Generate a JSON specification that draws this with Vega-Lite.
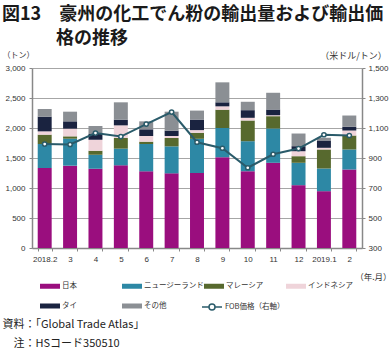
{
  "$schema": "https://vega.github.io/schema/vega-lite/v6.json",
  "width": 330,
  "height": 180,
  "autosize": {"type": "none"},
  "padding": {"left": 32, "top": 68, "right": 30, "bottom": 103},
  "background": "white",
  "config": {"view": {"stroke": null}, "font": "Noto Sans CJK JP"},
  "title": {
    "text": ["図13　豪州の化工でん粉の輸出量および輸出価", "\u200d　　　格の推移"],
    "anchor": "start",
    "frame": "group",
    "dx": -30,
    "offset": 3,
    "fontSize": 18,
    "fontWeight": "bold",
    "font": "Noto Sans CJK JP",
    "color": "#1a1a1a",
    "lineHeight": 24
  },
  "datasets": {
    "bars": [
      {"month": "2018.2", "country": "日本", "ord": 1, "tons": 1333},
      {"month": "2018.2", "country": "ニュージーランド", "ord": 2, "tons": 400},
      {"month": "2018.2", "country": "マレーシア", "ord": 3, "tons": 156},
      {"month": "2018.2", "country": "インドネシア", "ord": 4, "tons": 55},
      {"month": "2018.2", "country": "タイ", "ord": 5, "tons": 245},
      {"month": "2018.2", "country": "その他", "ord": 6, "tons": 128},
      {"month": "3", "country": "日本", "ord": 1, "tons": 1372},
      {"month": "3", "country": "ニュージーランド", "ord": 2, "tons": 450},
      {"month": "3", "country": "マレーシア", "ord": 3, "tons": 39},
      {"month": "3", "country": "インドネシア", "ord": 4, "tons": 128},
      {"month": "3", "country": "タイ", "ord": 5, "tons": 122},
      {"month": "3", "country": "その他", "ord": 6, "tons": 161},
      {"month": "4", "country": "日本", "ord": 1, "tons": 1322},
      {"month": "4", "country": "ニュージーランド", "ord": 2, "tons": 234},
      {"month": "4", "country": "マレーシア", "ord": 3, "tons": 66},
      {"month": "4", "country": "インドネシア", "ord": 4, "tons": 184},
      {"month": "4", "country": "タイ", "ord": 5, "tons": 94},
      {"month": "4", "country": "その他", "ord": 6, "tons": 133},
      {"month": "5", "country": "日本", "ord": 1, "tons": 1378},
      {"month": "5", "country": "ニュージーランド", "ord": 2, "tons": 278},
      {"month": "5", "country": "マレーシア", "ord": 3, "tons": 177},
      {"month": "5", "country": "インドネシア", "ord": 4, "tons": 211},
      {"month": "5", "country": "タイ", "ord": 5, "tons": 95},
      {"month": "5", "country": "その他", "ord": 6, "tons": 289},
      {"month": "6", "country": "日本", "ord": 1, "tons": 1278},
      {"month": "6", "country": "ニュージーランド", "ord": 2, "tons": 455},
      {"month": "6", "country": "マレーシア", "ord": 3, "tons": 39},
      {"month": "6", "country": "インドネシア", "ord": 4, "tons": 95},
      {"month": "6", "country": "タイ", "ord": 5, "tons": 111},
      {"month": "6", "country": "その他", "ord": 6, "tons": 133},
      {"month": "7", "country": "日本", "ord": 1, "tons": 1244},
      {"month": "7", "country": "ニュージーランド", "ord": 2, "tons": 450},
      {"month": "7", "country": "マレーシア", "ord": 3, "tons": 139},
      {"month": "7", "country": "インドネシア", "ord": 4, "tons": 34},
      {"month": "7", "country": "タイ", "ord": 5, "tons": 89},
      {"month": "7", "country": "その他", "ord": 6, "tons": 316},
      {"month": "8", "country": "日本", "ord": 1, "tons": 1250},
      {"month": "8", "country": "ニュージーランド", "ord": 2, "tons": 570},
      {"month": "8", "country": "マレーシア", "ord": 3, "tons": 100},
      {"month": "8", "country": "インドネシア", "ord": 4, "tons": 45},
      {"month": "8", "country": "タイ", "ord": 5, "tons": 175},
      {"month": "8", "country": "その他", "ord": 6, "tons": 150},
      {"month": "9", "country": "日本", "ord": 1, "tons": 1513},
      {"month": "9", "country": "ニュージーランド", "ord": 2, "tons": 487},
      {"month": "9", "country": "マレーシア", "ord": 3, "tons": 305},
      {"month": "9", "country": "インドネシア", "ord": 4, "tons": 56},
      {"month": "9", "country": "タイ", "ord": 5, "tons": 67},
      {"month": "9", "country": "その他", "ord": 6, "tons": 333},
      {"month": "10", "country": "日本", "ord": 1, "tons": 1280},
      {"month": "10", "country": "ニュージーランド", "ord": 2, "tons": 500},
      {"month": "10", "country": "マレーシア", "ord": 3, "tons": 345},
      {"month": "10", "country": "インドネシア", "ord": 4, "tons": 45},
      {"month": "10", "country": "タイ", "ord": 5, "tons": 127},
      {"month": "10", "country": "その他", "ord": 6, "tons": 140},
      {"month": "11", "country": "日本", "ord": 1, "tons": 1420},
      {"month": "11", "country": "ニュージーランド", "ord": 2, "tons": 572},
      {"month": "11", "country": "マレーシア", "ord": 3, "tons": 205},
      {"month": "11", "country": "インドネシア", "ord": 4, "tons": 16},
      {"month": "11", "country": "タイ", "ord": 5, "tons": 95},
      {"month": "11", "country": "その他", "ord": 6, "tons": 279},
      {"month": "12", "country": "日本", "ord": 1, "tons": 1047},
      {"month": "12", "country": "ニュージーランド", "ord": 2, "tons": 373},
      {"month": "12", "country": "マレーシア", "ord": 3, "tons": 110},
      {"month": "12", "country": "インドネシア", "ord": 4, "tons": 83},
      {"month": "12", "country": "タイ", "ord": 5, "tons": 84},
      {"month": "12", "country": "その他", "ord": 6, "tons": 211},
      {"month": "2019.1", "country": "日本", "ord": 1, "tons": 947},
      {"month": "2019.1", "country": "ニュージーランド", "ord": 2, "tons": 378},
      {"month": "2019.1", "country": "マレーシア", "ord": 3, "tons": 317},
      {"month": "2019.1", "country": "インドネシア", "ord": 4, "tons": 28},
      {"month": "2019.1", "country": "タイ", "ord": 5, "tons": 122},
      {"month": "2019.1", "country": "その他", "ord": 6, "tons": 45},
      {"month": "2", "country": "日本", "ord": 1, "tons": 1308},
      {"month": "2", "country": "ニュージーランド", "ord": 2, "tons": 334},
      {"month": "2", "country": "マレーシア", "ord": 3, "tons": 233},
      {"month": "2", "country": "インドネシア", "ord": 4, "tons": 83},
      {"month": "2", "country": "タイ", "ord": 5, "tons": 62},
      {"month": "2", "country": "その他", "ord": 6, "tons": 188}
    ],
    "price": [
      {"month": "2018.2", "price": 993},
      {"month": "3", "price": 990},
      {"month": "4", "price": 1066},
      {"month": "5", "price": 1043},
      {"month": "6", "price": 1126},
      {"month": "7", "price": 1206},
      {"month": "8", "price": 1005},
      {"month": "9", "price": 965},
      {"month": "10", "price": 835},
      {"month": "11", "price": 925},
      {"month": "12", "price": 963},
      {"month": "2019.1", "price": 1055},
      {"month": "2", "price": 1050}
    ]
  },
  "layer": [
    {
      "data": {"name": "bars"},
      "mark": {"type": "bar"},
      "encoding": {
        "x": {
          "field": "month", "type": "nominal", "sort": null,
          "scale": {"paddingInner": 0.45, "paddingOuter": 0.225},
          "axis": {
            "orient": "bottom",
            "title": ["資料：「Global Trade Atlas」", "\u200d　注：HSコード350510"],
            "titleX": -30, "titleY": 70, "titleAlign": "left", "titleBaseline": "top",
            "titleFontSize": 11, "titleFontWeight": "normal", "titleLineHeight": 19,
            "titleColor": "#222", "titleFont": "Noto Sans CJK JP",
            "labelAngle": 0, "labelFontSize": 8, "labelFont": "Liberation Sans", "labelColor": "#333",
            "labelPadding": 4, "tickSize": 3, "tickBand": "extent", "tickColor": "#888",
            "domainColor": "#888", "domainWidth": 1.5, "grid": false
          }
        },
        "y": {
          "field": "tons", "type": "quantitative", "stack": "zero",
          "scale": {"domain": [0, 3000], "nice": false},
          "axis": {
            "title": "（トン）", "titleAngle": 0, "titleX": -14, "titleY": -13,
            "titleAlign": "center", "titleBaseline": "middle", "titleFontSize": 8,
            "titleFontWeight": "normal", "titleColor": "#333",
            "values": [0, 500, 1000, 1500, 2000, 2500, 3000], "format": ",.0f",
            "labelFontSize": 8, "labelFont": "Liberation Sans", "labelColor": "#333",
            "labelPadding": 4, "tickSize": 3, "tickColor": "#888", "labelOverlap": false,
            "domainColor": "#888", "domainWidth": 1.5,
            "grid": true, "gridColor": "#a6a6a6", "gridWidth": 1
          }
        },
        "color": {
          "field": "country", "type": "nominal",
          "scale": {
            "domain": ["日本", "ニュージーランド", "マレーシア", "インドネシア", "タイ", "その他"],
            "range": ["#9A0E7E", "#2D88A5", "#57692E", "#EFD4DA", "#1A2340", "#8B8F94"]
          },
          "legend": {
            "orient": "none", "legendX": 8, "legendY": 208, "title": null,
            "direction": "horizontal", "columns": 4, "gridAlign": "all",
            "columnPadding": -2, "rowPadding": 6, "padding": 0,
            "symbolType": "M-1,-0.25H1V0.25H-1Z", "symbolSize": 400, "symbolStrokeWidth": 0,
            "labelFontSize": 7.5, "labelFont": "Noto Sans CJK JP", "labelColor": "#333",
            "labelOffset": 2, "labelLimit": 120
          }
        },
        "order": {"field": "ord", "type": "quantitative"}
      }
    },
    {
      "data": {"name": "price"},
      "encoding": {
        "x": {
          "field": "month", "type": "nominal", "sort": null,
          "axis": {
            "orient": "bottom",
            "title": "（年.月）", "titleX": 359, "titleY": 28, "titleAlign": "right",
            "titleBaseline": "middle", "titleFontSize": 8.5, "titleFontWeight": "normal",
            "titleColor": "#333", "labels": false, "ticks": false, "domain": false, "grid": false
          }
        },
        "y": {
          "field": "price", "type": "quantitative",
          "scale": {"domain": [300, 1500], "nice": false, "zero": false},
          "axis": {
            "orient": "right",
            "title": "（米ドル/トン）", "titleAngle": 0, "titleX": -9, "titleY": -13,
            "titleAlign": "center", "titleBaseline": "middle", "titleFontSize": 9,
            "titleFontWeight": "normal", "titleColor": "#333",
            "values": [300, 500, 700, 900, 1100, 1300, 1500], "format": ",.0f",
            "labelFontSize": 8, "labelFont": "Liberation Sans", "labelColor": "#333",
            "labelOverlap": false, "labelFlush": false,
            "labelPadding": 3, "tickSize": 3, "tickColor": "#888",
            "domainColor": "#888", "domainWidth": 1.5, "grid": false
          }
        }
      },
      "layer": [
        {
          "mark": {"type": "line", "strokeWidth": 2},
          "encoding": {
            "stroke": {
              "datum": "FOB価格（右軸）",
              "scale": {"range": ["#2A5B6A"]},
              "legend": {
                "orient": "none", "legendX": 169, "legendY": 228, "title": null, "padding": 0,
                "symbolType": "M-1,0H-0.3M0.3,0H1M0.3,0A0.3,0.3,0,1,1,-0.3,0A0.3,0.3,0,1,1,0.3,0",
                "symbolSize": 400, "symbolStrokeWidth": 1.5, "symbolFillColor": "white",
                "labelFontSize": 7.5, "labelFont": "Noto Sans CJK JP", "labelColor": "#333",
                "labelOffset": 2,
                "encode": {"symbols": {"update": {"fill": {"value": "white"}}}}
              }
            }
          }
        },
        {
          "mark": {"type": "point", "filled": true, "fill": "white", "stroke": "#2A5B6A", "strokeWidth": 1.5, "size": 18, "opacity": 1},
          "encoding": {}
        }
      ]
    }
  ],
  "resolve": {"scale": {"y": "independent"}, "axis": {"x": "independent"}}
}
